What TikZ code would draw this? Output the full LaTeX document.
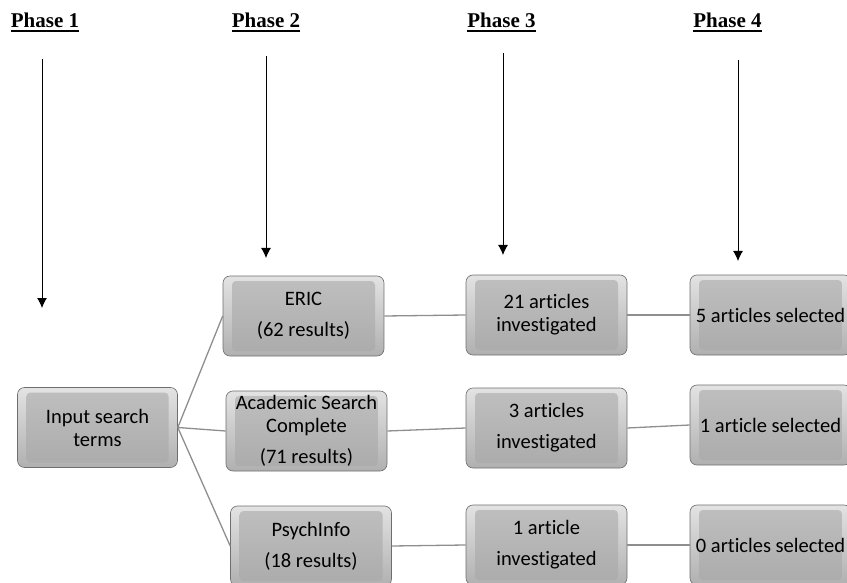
\documentclass[tikz,border=0pt]{standalone}
\usepackage{fontspec}
\setmainfont{Carlito}[RawFeature={-liga}]
\newfontfamily\phasefont{Liberation Serif}
\usetikzlibrary{arrows.meta}
\definecolor{mylink}{HTML}{8E8E8E}
\definecolor{myedge}{HTML}{6E6E6E}
\newcommand{\phaseul}[1]{\setbox0\hbox{#1}\rlap{\rule[-4pt]{\wd0}{2pt}}\box0}

\begin{document}
\begin{tikzpicture}[
    x=1pt, y=-1pt,
    font=\fontsize{20.5}{23}\selectfont,
    phase/.style={
      anchor=base, inner sep=0pt,
      font=\phasefont\bfseries\fontsize{21}{24}\selectfont
    },
    stage/.style={
      rectangle,
      rounded corners=7pt,
      draw=myedge, line width=0.6pt,
      minimum width=161pt, minimum height=80pt, inner sep=0pt,
      align=center, text=black,
      top color=gray!22, bottom color=gray!62,
      path picture={
        \shade[top color=gray!50, bottom color=gray!66, rounded corners=4pt]
        ([xshift=9pt,yshift=-5pt]path picture bounding box.north west) rectangle
        ([xshift=-9pt,yshift=5pt]path picture bounding box.south east);
      }
    },
    link/.style={draw=mylink, line width=1.3pt},
    down/.style={-{Latex[length=10pt,width=10pt]}, line width=0.9pt}
]
  \useasboundingbox (0,0) rectangle (847,583);

  % phase headings
  \node[phase] (phase1) at (45,28)    {\phaseul{Phase 1}};
  \node[phase] (phase2) at (266,28)   {\phaseul{Phase 2}};
  \node[phase] (phase3) at (501.5,28) {\phaseul{Phase 3}};
  \node[phase] (phase4) at (727.5,28) {\phaseul{Phase 4}};

  \coordinate (p1top) at (42,59);   \coordinate (p1tip) at (42,308);
  \coordinate (p2top) at (266,56);  \coordinate (p2tip) at (266,258);
  \coordinate (p3top) at (503,53);  \coordinate (p3tip) at (503,255);
  \coordinate (p4top) at (738,60);  \coordinate (p4tip) at (738,261);

  \draw[down] (p1top) -- (p1tip);
  \draw[down] (p2top) -- (p2tip);
  \draw[down] (p3top) -- (p3tip);
  \draw[down] (p4top) -- (p4tip);

  % phase 1
  \node[stage, minimum width=160pt] (input) at (97.5,427.5) {Input search\\terms};

  % phase 2
  \node[stage] (eric)     at (303.5,316) {ERIC\\[8pt](62 results)};
  \node[stage] (academic) at (306.5,431) {Academic Search\\Complete\\[8pt](71 results)};
  \node[stage] (psych)    at (311,546)   {PsychInfo\\[8pt](18 results)};

  % phase 3
  \node[stage] (inv21) at (546.5,315) {21 articles\\investigated};
  \node[stage] (inv3)  at (546.5,428) {3 articles\\[8pt]investigated};
  \node[stage] (inv1)  at (546.5,545) {1 article\\[8pt]investigated};

  % phase 4
  \node[stage] (sel5) at (770.5,315) {5 articles selected};
  \node[stage] (sel1) at (770.5,425) {1 article selected};
  \node[stage] (sel0) at (770.5,545) {0 articles selected};

  \draw[link] (input.east) -- (eric.west);
  \draw[link] (input.east) -- (academic.west);
  \draw[link] (input.east) -- (psych.west);

  \draw[link] (eric.east) -- (inv21.west);
  \draw[link] (academic.east) -- (inv3.west);
  \draw[link] (psych.east) -- (inv1.west);

  \draw[link] (inv21.east) -- (sel5.west);
  \draw[link] (inv3.east) -- (sel1.west);
  \draw[link] (inv1.east) -- (sel0.west);

\end{tikzpicture}
\end{document}
